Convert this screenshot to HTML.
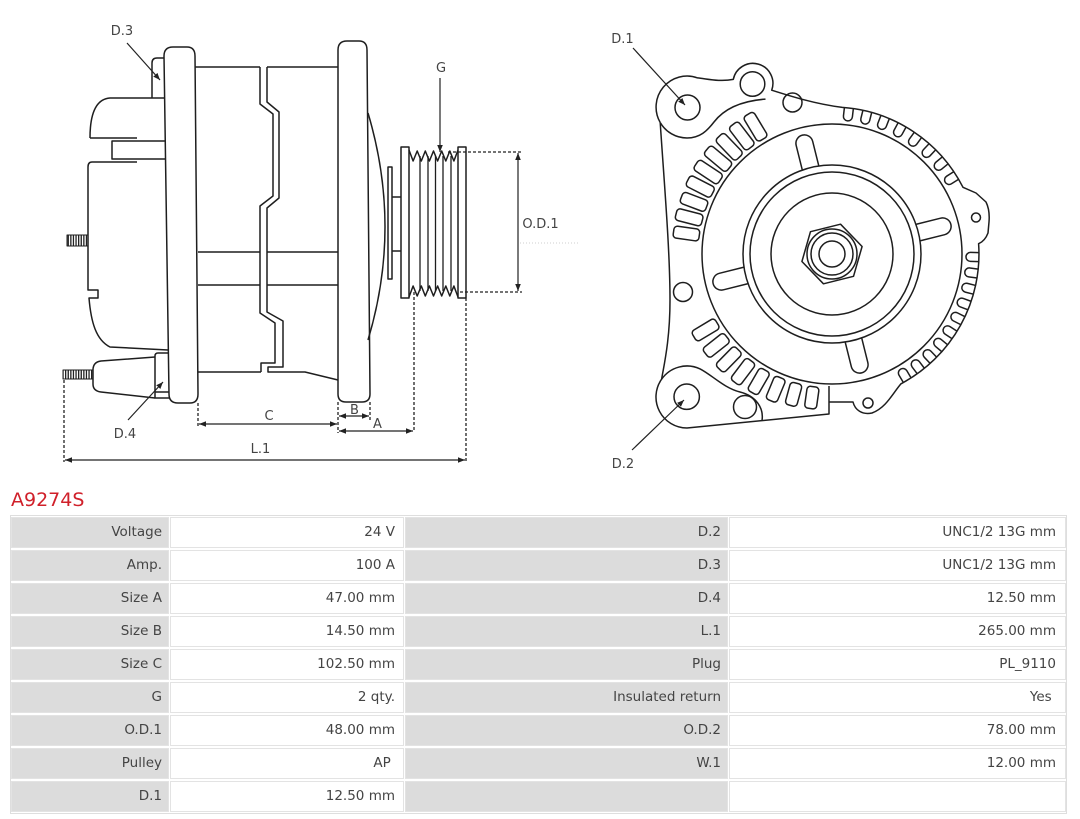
<!DOCTYPE html>
<html><head><meta charset="utf-8">
<style>
html,body{margin:0;padding:0;background:#fff;}
body{width:1080px;height:819px;position:relative;overflow:hidden;font-family:"DejaVu Sans","Liberation Sans",sans-serif;}
svg{position:absolute;left:0;top:0;}
.title{position:absolute;left:11px;top:489px;font-size:19px;line-height:22px;color:#d0202a;}
.frame{position:absolute;left:10px;top:515px;width:1057px;height:299px;box-sizing:border-box;border:1px solid #dedede;}
.r{position:absolute;height:31px;box-sizing:border-box;border:1px solid #e3e3e3;text-align:right;line-height:29px;font-size:13.5px;color:#444;white-space:nowrap;overflow:hidden;}
.g{background:#dcdcdc;}
.w{background:#fff;}
.c1{left:11px;width:158px;padding-right:6px;}
.c2{left:170px;width:234px;padding-right:8px;}
.c3{left:405px;width:323px;padding-right:6px;}
.c4{left:729px;width:337px;padding-right:9px;}
</style></head><body>
<svg width="1080" height="480" viewBox="0 0 1080 480">
<defs>
<pattern id="h" width="2.6" height="20" patternUnits="userSpaceOnUse"><rect width="1.3" height="20" fill="#222"/></pattern>
<marker id="ar" viewBox="0 0 10 10" refX="10" refY="5" markerWidth="7" markerHeight="7" orient="auto-start-reverse" markerUnits="userSpaceOnUse"><path d="M0,1 L10,5 L0,9 z" fill="#222"/></marker>
</defs>

<!-- LEFT VIEW -->
<g fill="none" stroke="#1e1e1e" stroke-width="1.5" stroke-linejoin="round">
 <path d="M164,56 Q164,47 173,47 L187,47 Q195,47 195,56 L198,394 Q198,403 190,403 L178,403 Q169,403 169,394 Z"/>
 <path d="M164,58 L157,58 Q152,58 152,63 L152,98"/>
 <path d="M164,98 L110,98 C96,99 90,114 90,138"/>
 <path d="M90,138 L137,138"/>
 <path d="M165,141 L112,141 L112,159 L166,159"/>
 <path d="M137,162 L92,162 Q88,162 88,167 L88,290 L98,290 L98,298 L89,298 C91,322 96,340 110,347 L168,350"/>
 <rect x="67" y="235" width="21" height="11" fill="url(#h)" stroke-width="1"/>
 <rect x="63" y="370" width="30" height="9" fill="url(#h)" stroke-width="1"/>
 <path d="M155,357 L101,361 Q93,362 93,370 L93,384 Q93,391 101,392 L155,398"/>
 <path d="M169,353 L158,353 Q155,353 155,356 L155,398 L169,398"/>
 <path d="M155,392 L169,392"/>
 <!-- stator -->
 <path d="M195,67 H260 M267,67 H338 M198,252 H260 M267,252 H338 M198,285 H260 M267,285 H338 M198,372 H261"/>
 <path d="M260,67 L260,104 L273,114 L273,196 L260,206 L260,313 L275,323 L275,363 L261,363 L261,372"/>
 <path d="M267,67 L267,102 L279,112 L279,198 L267,208 L267,312 L283,321 L283,367 L268,367 L268,372 L305,372 L338,380"/>
 <!-- front bracket -->
 <path d="M338,50 Q338,41 347,41 L359,41 Q367,41 367,50 L370,394 Q370,402 362,402 L346,402 Q338,402 338,394 Z"/>
 <path d="M368,113 Q402,227 368,340"/>
 <!-- pulley -->
 <rect x="388" y="167" width="4" height="112"/>
 <path d="M392,197 H401 M392,251 H401"/>
 <rect x="401" y="147" width="8" height="151"/>
 <rect x="458" y="147" width="8" height="151"/>
 <path d="M409,150 L413.1,161 L417.2,151 L421.3,161 L425.3,151 L429.4,161 L433.5,151 L437.6,161 L441.7,151 L445.8,161 L449.8,151 L453.9,161 L458,150"/>
 <path d="M409,297 L413.1,286 L417.2,296 L421.3,286 L425.3,296 L429.4,286 L433.5,296 L437.6,286 L441.7,296 L445.8,286 L449.8,296 L453.9,286 L458,297"/>
 <path d="M420,156 V291 M428,156 V291 M435.5,156 V291 M443,156 V291 M451,156 V291" stroke-width="1.3"/>
</g>

<!-- dashed dimension lines -->
<g fill="none" stroke="#222" stroke-width="1.3" stroke-dasharray="3,2">
 <path d="M448,152 H522"/>
 <path d="M460,292 H522"/>
 <path d="M414,292 V432"/>
 <path d="M466,298 V462"/>
 <path d="M198,403 V428"/>
 <path d="M338,402 V433"/>
 <path d="M370,402 V420"/>
 <path d="M64,380 V462"/>
</g>
<path d="M520,243 H580" stroke="#cfcfcf" stroke-width="1" stroke-dasharray="1,2"/>

<!-- arrows -->
<g fill="none" stroke="#222" stroke-width="1.2">
 <path d="M518,153 V291" marker-start="url(#ar)" marker-end="url(#ar)"/>
 <path d="M440,78 V152" marker-end="url(#ar)"/>
 <path d="M339,416 H369" marker-start="url(#ar)" marker-end="url(#ar)"/>
 <path d="M339,431 H413" marker-start="url(#ar)" marker-end="url(#ar)"/>
 <path d="M199,424 H337" marker-start="url(#ar)" marker-end="url(#ar)"/>
 <path d="M65,460 H465" marker-start="url(#ar)" marker-end="url(#ar)"/>
 <path d="M127,43 L160,80" marker-end="url(#ar)"/>
 <path d="M128,420 L163,382" marker-end="url(#ar)"/>
 <path d="M633,48 L685,105" marker-end="url(#ar)"/>
 <path d="M632,450 L684,400" marker-end="url(#ar)"/>
</g>

<!-- labels -->
<g font-family="DejaVu Sans, Liberation Sans, sans-serif" font-size="13" fill="#444" text-anchor="middle">
 <text x="122" y="35">D.3</text>
 <text x="441" y="72">G</text>
 <text x="540.5" y="228">O.D.1</text>
 <text x="269" y="420">C</text>
 <text x="354.5" y="414">B</text>
 <text x="377.5" y="428">A</text>
 <text x="260.5" y="453">L.1</text>
 <text x="125" y="438">D.4</text>
 <text x="622.5" y="43">D.1</text>
 <text x="623" y="468">D.2</text>
</g>

<!-- RIGHT VIEW -->
<g fill="none" stroke="#1e1e1e" stroke-width="1.5" stroke-linejoin="round">
 <path d="M660.2,122.5 A31,31 0 0 1 697.6,77.9 C708,79 720,82 733.3,79.4 A20,20 0 1 1 771.7,90.2 C790,96 815,104 842.3,107.4 A147,147 0 0 1 963,187.3 L976,193 L986,202 Q990,210 989,222 L988,233 Q985,241 978.6,243.7 A147,147 0 0 1 901,383.8 C893,393 886,408 872,413 C862,415 855,410 853,402 L829,402"/>
 <path d="M829,386 V414 L687,428 A31,31 0 0 1 661.6,379.2 C664,365 670,340 670,300 C670,250 664,180 660.2,122.5"/>
 <path d="M660.2,122.5 A31,31 0 0 0 687,138 C700,138 707,131 714,122 C724,109 740,101 765.5,99.1"/>
 <path d="M661.6,379.2 A31,31 0 0 1 700.1,368.9 C712,375 724,388 740,392 C756,396 764,408 762,420.6"/>
 <circle cx="687.5" cy="107.5" r="12.5"/>
 <circle cx="752.5" cy="84" r="12.3"/>
 <circle cx="792.5" cy="102.5" r="9.5"/>
 <circle cx="683" cy="292" r="9.5"/>
 <circle cx="686.7" cy="396.7" r="12.7"/>
 <circle cx="745" cy="407" r="11.5"/>
 <circle cx="868" cy="403" r="5"/>
 <circle cx="976" cy="217.5" r="4.5"/>
 <g transform="translate(832,254)">
  <circle r="130"/>
  <circle r="89"/>
  <circle r="82"/>
  <circle r="61"/>
  <circle r="25"/>
  <circle r="21"/>
  <circle r="13"/>
  <polygon points="30.08,-7.5 21.53,22.3 -8.54,29.8 -30.08,7.5 -21.53,-22.3 8.54,-29.8"/>
  <path d="M89,-8.5 L114,-8.5 A8.5,8.5 0 0 1 114,8.5 L89,8.5" transform="rotate(-104)"/>
  <path d="M89,-8.5 L114,-8.5 A8.5,8.5 0 0 1 114,8.5 L89,8.5" transform="rotate(-14)"/>
  <path d="M89,-8.5 L114,-8.5 A8.5,8.5 0 0 1 114,8.5 L89,8.5" transform="rotate(76)"/>
  <path d="M89,-8.5 L114,-8.5 A8.5,8.5 0 0 1 114,8.5 L89,8.5" transform="rotate(166)"/>
  <!-- upper-left slots -->
  <rect x="134" y="-6" width="29" height="12" rx="3.5" transform="rotate(-121)"/>
  <rect x="134" y="-6" width="29" height="12" rx="3.5" transform="rotate(-127.4)"/>
  <rect x="134" y="-6" width="29" height="12" rx="3.5" transform="rotate(-133.8)"/>
  <rect x="134" y="-6" width="29" height="12" rx="3.5" transform="rotate(-140.1)"/>
  <rect x="134" y="-6" width="29" height="12" rx="3.5" transform="rotate(-146.5)"/>
  <rect x="134" y="-6" width="28" height="12" rx="3.5" transform="rotate(-152.9)"/>
  <rect x="134" y="-6" width="27" height="12" rx="3.5" transform="rotate(-159.3)"/>
  <rect x="134" y="-6" width="27" height="12" rx="3.5" transform="rotate(-165.6)"/>
  <rect x="134" y="-6" width="26" height="12" rx="3.5" transform="rotate(-172)"/>
  <!-- lower-left slots -->
  <rect x="134" y="-6" width="27" height="12" rx="3.5" transform="rotate(149)"/>
  <rect x="134" y="-6" width="27" height="12" rx="3.5" transform="rotate(141.7)"/>
  <rect x="134" y="-6" width="27" height="12" rx="3.5" transform="rotate(134.4)"/>
  <rect x="134" y="-6" width="27" height="12" rx="3.5" transform="rotate(127.1)"/>
  <rect x="134" y="-6" width="26" height="12" rx="3.5" transform="rotate(119.9)"/>
  <rect x="134" y="-6" width="25" height="12" rx="3.5" transform="rotate(112.6)"/>
  <rect x="134" y="-6" width="23" height="12" rx="3.5" transform="rotate(105.3)"/>
  <rect x="134" y="-6" width="22" height="12" rx="3.5" transform="rotate(98)"/>
  <!-- notches top-right -->
  <path d="M147,-4.5 H138.5 A4.5,4.5 0 0 0 138.5,4.5 H147" transform="rotate(-83.4)"/>
  <path d="M147,-4.5 H138.5 A4.5,4.5 0 0 0 138.5,4.5 H147" transform="rotate(-76.1)"/>
  <path d="M147,-4.5 H138.5 A4.5,4.5 0 0 0 138.5,4.5 H147" transform="rotate(-68.8)"/>
  <path d="M147,-4.5 H138.5 A4.5,4.5 0 0 0 138.5,4.5 H147" transform="rotate(-61.5)"/>
  <path d="M147,-4.5 H138.5 A4.5,4.5 0 0 0 138.5,4.5 H147" transform="rotate(-54.2)"/>
  <path d="M147,-4.5 H138.5 A4.5,4.5 0 0 0 138.5,4.5 H147" transform="rotate(-46.9)"/>
  <path d="M147,-4.5 H138.5 A4.5,4.5 0 0 0 138.5,4.5 H147" transform="rotate(-39.6)"/>
  <path d="M147,-4.5 H138.5 A4.5,4.5 0 0 0 138.5,4.5 H147" transform="rotate(-32.3)"/>
  <!-- notches right -->
  <path d="M147,-4.5 H138.5 A4.5,4.5 0 0 0 138.5,4.5 H147" transform="rotate(1.2)"/>
  <path d="M147,-4.5 H138.5 A4.5,4.5 0 0 0 138.5,4.5 H147" transform="rotate(7.65)"/>
  <path d="M147,-4.5 H138.5 A4.5,4.5 0 0 0 138.5,4.5 H147" transform="rotate(14.1)"/>
  <path d="M147,-4.5 H138.5 A4.5,4.5 0 0 0 138.5,4.5 H147" transform="rotate(20.55)"/>
  <path d="M147,-4.5 H138.5 A4.5,4.5 0 0 0 138.5,4.5 H147" transform="rotate(27)"/>
  <path d="M147,-4.5 H138.5 A4.5,4.5 0 0 0 138.5,4.5 H147" transform="rotate(33.45)"/>
  <path d="M147,-4.5 H138.5 A4.5,4.5 0 0 0 138.5,4.5 H147" transform="rotate(39.9)"/>
  <path d="M147,-4.5 H138.5 A4.5,4.5 0 0 0 138.5,4.5 H147" transform="rotate(46.35)"/>
  <path d="M147,-4.5 H138.5 A4.5,4.5 0 0 0 138.5,4.5 H147" transform="rotate(52.8)"/>
  <path d="M147,-4.5 H138.5 A4.5,4.5 0 0 0 138.5,4.5 H147" transform="rotate(59.2)"/>
 </g>
</g>
</svg>

<div class="title">A9274S</div>
<div class="frame"></div>

<div class="r g c1" style="top:517px">Voltage</div>
<div class="r w c2" style="top:517px">24 V</div>
<div class="r g c3" style="top:517px">D.2</div>
<div class="r w c4" style="top:517px">UNC1/2 13G mm</div>

<div class="r g c1" style="top:550px">Amp.</div>
<div class="r w c2" style="top:550px">100 A</div>
<div class="r g c3" style="top:550px">D.3</div>
<div class="r w c4" style="top:550px">UNC1/2 13G mm</div>

<div class="r g c1" style="top:583px">Size A</div>
<div class="r w c2" style="top:583px">47.00 mm</div>
<div class="r g c3" style="top:583px">D.4</div>
<div class="r w c4" style="top:583px">12.50 mm</div>

<div class="r g c1" style="top:616px">Size B</div>
<div class="r w c2" style="top:616px">14.50 mm</div>
<div class="r g c3" style="top:616px">L.1</div>
<div class="r w c4" style="top:616px">265.00 mm</div>

<div class="r g c1" style="top:649px">Size C</div>
<div class="r w c2" style="top:649px">102.50 mm</div>
<div class="r g c3" style="top:649px">Plug</div>
<div class="r w c4" style="top:649px">PL_9110</div>

<div class="r g c1" style="top:682px">G</div>
<div class="r w c2" style="top:682px">2 qty.</div>
<div class="r g c3" style="top:682px">Insulated return</div>
<div class="r w c4" style="top:682px">Yes&nbsp;</div>

<div class="r g c1" style="top:715px">O.D.1</div>
<div class="r w c2" style="top:715px">48.00 mm</div>
<div class="r g c3" style="top:715px">O.D.2</div>
<div class="r w c4" style="top:715px">78.00 mm</div>

<div class="r g c1" style="top:748px">Pulley</div>
<div class="r w c2" style="top:748px">AP&nbsp;</div>
<div class="r g c3" style="top:748px">W.1</div>
<div class="r w c4" style="top:748px">12.00 mm</div>

<div class="r g c1" style="top:781px">D.1</div>
<div class="r w c2" style="top:781px">12.50 mm</div>
<div class="r g c3" style="top:781px"></div>
<div class="r w c4" style="top:781px"></div>
</body></html>
